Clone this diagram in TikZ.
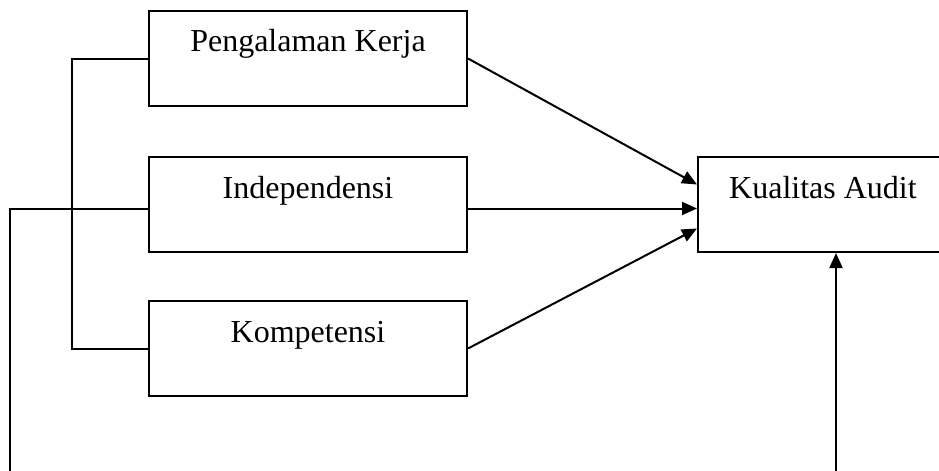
\documentclass[tikz,border=0pt]{standalone}
\usepackage{fontspec}
\setmainfont{Liberation Serif}
\usetikzlibrary{arrows.meta}
\tikzset{
	varbox/.style={draw, inner sep=0pt, minimum width=159pt, text height=20.5pt, text depth=27pt, anchor=north west},
}
\begin{document}
\begin{tikzpicture}[x=.5pt, y=-.5pt, font=\fontsize{16}{19}\selectfont, line width=1pt, >={Triangle[length=7.5pt,width=6.5pt]}]
		\useasboundingbox(0,0)rectangle(939,471);
		\node[varbox](peng)at(148,10){Pengalaman Kerja};
		\node[varbox](indep)at(148,156){Independensi};
		\node[varbox](komp)at(148,300){Kompetensi};
		\node[varbox,minimum width=125pt](kual)at(697,156){Kualitas Audit};
		\coordinate(lbot)at(10,471);
		\coordinate(rbot)at(836,471);
		\draw(peng.west)--++(-76,0)|-(komp.west);
		\draw([yshift=-2pt]indep.west)-|(lbot);
		\draw[->](peng.east)--([yshift=10pt]kual.west);
		\draw[->]([yshift=-2pt]indep.east)--([yshift=-2pt]kual.west);
		\draw[->](komp.east)--([yshift=-12pt]kual.west);
		\draw[->](rbot)--(rbot|-kual.south);
	\end{tikzpicture}
\end{document}
